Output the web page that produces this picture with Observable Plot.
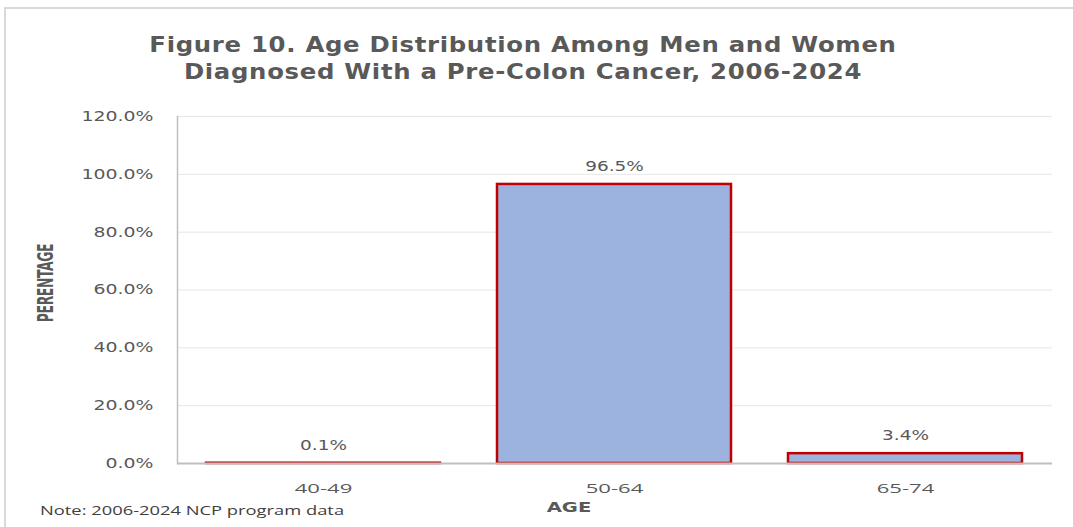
<!DOCTYPE html>
<html>
<head>
<meta charset="utf-8">
<script src="https://cdn.jsdelivr.net/npm/d3@7"></script>
<script src="https://cdn.jsdelivr.net/npm/@observablehq/plot@0.6"></script>
<style>
  html, body { margin: 0; padding: 0; background: #fff; }
  #wrap { position: relative; width: 1073px; height: 527px; overflow: hidden; }
  #border { position: absolute; left: 4px; top: 7px; width: 1080px; height: 540px;
            border-left: 2px solid #d9d9d9; border-top: 2px solid #d9d9d9; box-sizing: border-box; }
  .title { position: absolute; left: 0; width: 1046px; text-align: center;
           font-family: "DejaVu Sans", sans-serif; font-weight: bold; font-size: 21px;
           color: #595959; letter-spacing: 0.6px; white-space: nowrap;
           transform: scaleX(1.16); transform-origin: 523px 0; }
  #ylab { position: absolute; left: 46px; top: 283px;
          transform: translate(-50%, -50%) rotate(-90deg) scale(0.83, 1.36);
          font-family: "DejaVu Sans", sans-serif; font-weight: bold; font-size: 15px; color: #595959;
          white-space: nowrap; letter-spacing: -0.5px; }
  #xlab { position: absolute; left: 569px; top: 507px; transform: translate(-50%, -50%) scaleX(1.4);
          font-family: "DejaVu Sans", sans-serif; font-weight: bold; font-size: 14px; color: #595959; }
  #note { position: absolute; left: 40px; top: 510px; transform: translateY(-50%) scaleX(1.41);
          transform-origin: 0 50%;
          font-family: "Open Sans", sans-serif; font-size: 13px; color: #404040; white-space: nowrap; }
  #chart { position: absolute; left: 0; top: 0; }
</style>
</head>
<body>
<div id="wrap">
  <div id="border"></div>
  <div id="chart"></div>
  <div class="title" style="top:33px">Figure 10. Age Distribution Among Men and Women</div>
  <div class="title" style="top:60px">Diagnosed With a Pre-Colon Cancer, 2006-2024</div>
  <div id="ylab">PERENTAGE</div>
  <div id="xlab">AGE</div>
  <div id="note">Note: 2006-2024 NCP program data</div>
</div>
<script>
// Age groups and share of diagnoses (fraction of total)
const ageGroups = ["40-49", "50-64", "65-74"];
const shares = [0.001, 0.965, 0.034];
const yTicks = [0, 0.2, 0.4, 0.6, 0.8, 1.0, 1.2];

const data = ageGroups.map((age, i) => ({age, share: shares[i]}));
const pct = d3.format(".1%");

const chart = Plot.plot({
  width: 1073,
  height: 527,
  marginTop: 116,
  marginBottom: 64,
  marginLeft: 177,
  marginRight: 21,
  style: {fontFamily: "DejaVu Sans, sans-serif", background: "transparent"},
  x: {domain: ageGroups, paddingInner: 0.195, paddingOuter: 0.0975, label: null},
  y: {domain: [0, 1.2], label: null},
  marks: [
    Plot.gridY(yTicks, {stroke: "#e6e6e6", strokeOpacity: 1, strokeWidth: 1}),
    Plot.barY(data, {x: "age", y: "share", fill: "#9db3df", stroke: "#c00000", strokeWidth: 2.5}),
    Plot.text(data, {x: "age", y: "share", text: d => pct(d.share), dy: -18,
      fill: "#595959", fontSize: 14, fontFamily: "DejaVu Sans, sans-serif", className: "wide-vl"}),
    Plot.ruleY([0], {stroke: "#bfbfbf", strokeWidth: 2}),
    Plot.axisY(yTicks, {tickFormat: pct, tickSize: 0, tickPadding: 24, fontSize: 14,
      fill: "#595959", label: null, className: "wide-y"}),
    Plot.axisX({tickSize: 0, tickPadding: 20, fontSize: 13, fill: "#595959",
      fontFamily: "Open Sans, sans-serif", label: null, className: "wide-x"}),
    Plot.frame({anchor: "left", stroke: "#bfbfbf", strokeWidth: 1.5})
  ]
});

// Widen the label glyphs horizontally around their anchor points
const widen = (cls, sx) => {
  chart.querySelectorAll(`.${cls} text`).forEach(t => {
    const tr = t.getAttribute("transform") || "";
    t.setAttribute("transform", `${tr} scale(${sx},1)`);
  });
};
widen("wide-y", 1.35);
widen("wide-vl", 1.32);
widen("wide-x", 1.7);

document.getElementById("chart").appendChild(chart);
</script>
</body>
</html>
